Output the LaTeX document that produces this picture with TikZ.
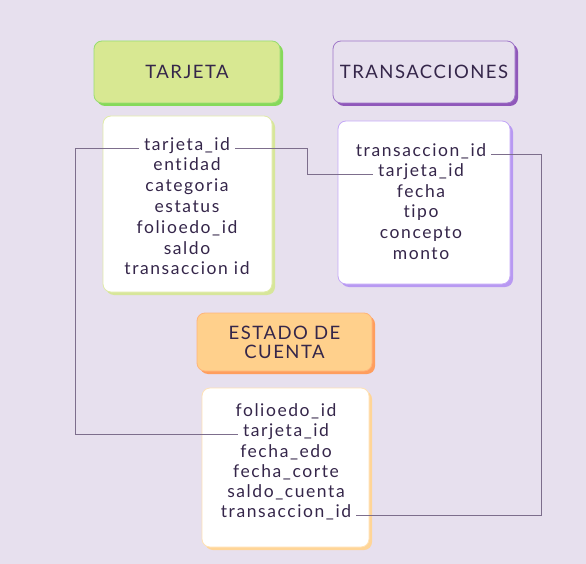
\documentclass[tikz,border=0pt]{standalone}
\usepackage{fontspec}
\setmainfont{Lato}[Ligatures={NoCommon}]
\usetikzlibrary{shadows}
\definecolor{bg}{HTML}{E7E0EE}
\definecolor{ink}{HTML}{35264A}
\definecolor{wire}{HTML}{7D6E8C}
\definecolor{tjfill}{HTML}{D8E892}
\definecolor{tjedge}{HTML}{98DD70}
\definecolor{tjshadow}{HTML}{86D95A}
\definecolor{tjbedge}{HTML}{E0EBA8}
\definecolor{tjbshadow}{HTML}{D7E69A}
\definecolor{tredge}{HTML}{9F77C8}
\definecolor{trshadow}{HTML}{9058BA}
\definecolor{trbedge}{HTML}{C4A8F7}
\definecolor{trbshadow}{HTML}{B899F2}
\definecolor{ecfill}{HTML}{FFD08C}
\definecolor{ecedge}{HTML}{FFB47A}
\definecolor{ecshadow}{HTML}{FF9E5E}
\definecolor{ecbedge}{HTML}{FFE2B5}
\definecolor{ecbshadow}{HTML}{FFD597}
\tikzset{
  card/.style={rounded corners=8pt, line width=0.8pt, inner sep=0pt},
  sh/.style={drop shadow={shadow xshift=3pt, shadow yshift=-3pt, opacity=1, fill=#1}},
  headtext/.style={font=\fontsize{18.5}{22}\selectfont\addfontfeature{LetterSpace=8}, text=ink, align=center},
  field/.style={font=\fontsize{17.5}{20}\selectfont\addfontfeature{LetterSpace=9}, text=ink, inner xsep=5pt, inner ysep=0pt, text height=0.72em, text depth=0.22em},
  wireline/.style={draw=wire, line width=0.8pt}
}
\begin{document}
\begin{tikzpicture}[x=1pt,y=-1pt]
\useasboundingbox[fill=bg] (0,0) rectangle (586,564);
% headers
\node[card, sh=tjshadow, fill=tjfill, draw=tjedge, minimum width=186pt, minimum height=62pt, headtext] (tjh) at (187,72) {TARJETA};
\node[card, sh=trshadow, fill=bg, draw=tredge, minimum width=182pt, minimum height=62pt, headtext] (trh) at (424,72) {TRANSACCIONES};
\node[card, sh=ecshadow, fill=ecfill, draw=ecedge, minimum width=175pt, minimum height=58pt, headtext] (ech) at (284.5,342) {ESTADO DE\\[-3pt]CUENTA};
% bodies
\node[card, sh=tjbshadow, fill=white, draw=tjbedge, minimum width=169pt, minimum height=176pt] (tjb) at (187.5,204) {};
\node[card, sh=trbshadow, fill=white, draw=trbedge, minimum width=172pt, minimum height=163pt] (trb) at (424,202.5) {};
\node[card, sh=ecbshadow, fill=white, draw=ecbedge, minimum width=167pt, minimum height=159pt] (ecb) at (285.5,467.5) {};
% TARJETA fields
\node[field] (tj-id) at (187,148) {tarjeta\_id};
\node[field] (tj-ent) at (187,168.5) {entidad};
\node[field] (tj-cat) at (187,189) {categoria};
\node[field] (tj-est) at (187,210) {estatus};
\node[field] (tj-fol) at (187,231) {folioedo\_id};
\node[field] (tj-sal) at (187,251.5) {saldo};
\node[field] (tj-tr) at (187,272) {transaccion id};
% TRANSACCIONES fields
\node[field] (tr-id) at (421,154) {transaccion\_id};
\node[field] (tr-tj) at (421,174) {tarjeta\_id};
\node[field] (tr-fe) at (421,194.5) {fecha};
\node[field] (tr-ti) at (421,215) {tipo};
\node[field] (tr-co) at (421,236) {concepto};
\node[field] (tr-mo) at (421,256.5) {monto};
% ESTADO fields
\node[field] (ec-fol) at (286,414) {folioedo\_id};
\node[field] (ec-tj) at (286,434) {tarjeta\_id};
\node[field] (ec-fe) at (286,454.5) {fecha\_edo};
\node[field] (ec-fc) at (286,474.5) {fecha\_corte};
\node[field] (ec-sc) at (286,495) {saldo\_cuenta};
\node[field] (ec-tr) at (286,515) {transaccion\_id};
% connector columns
\coordinate (c1) at (75,0);
\coordinate (c2) at (307,0);
\coordinate (c3) at (541,0);
\draw[wireline] (tj-id.west) -| (c1 |- ec-tj.west) -- (ec-tj.west);
\draw[wireline] (tj-id.east) -| (c2 |- tr-tj.west) -- (tr-tj.west);
\draw[wireline] (tr-id.east) -| (c3 |- ec-tr.east) -- (ec-tr.east);
\end{tikzpicture}
\end{document}
